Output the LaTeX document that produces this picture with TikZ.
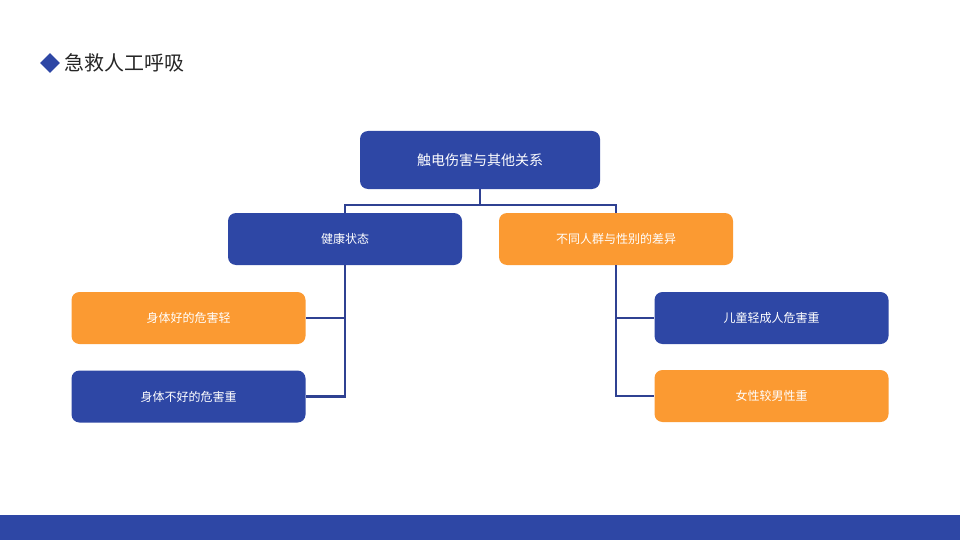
\documentclass[tikz,border=0pt]{standalone}
\usepackage{fontspec}
\setmainfont{Noto Sans CJK SC}
\usepackage{tikz}
\usetikzlibrary{positioning,shapes.geometric}
\definecolor{deepblue}{HTML}{2E47A5}
\definecolor{linkblue}{HTML}{2F4192}
\definecolor{amber}{HTML}{FB9A32}

\begin{document}
\begin{tikzpicture}[
  x=1pt, y=-1pt,
  font=\fontsize{12}{14}\selectfont,
  box/.style={rounded corners=8pt, text=white, minimum width=234pt, minimum height=52pt, inner sep=0pt},
  bluebox/.style={box, fill=deepblue},
  orangebox/.style={box, fill=amber},
  link/.style={draw=linkblue, line width=2.8pt}
]
\useasboundingbox (0,0) rectangle (960,540);
\fill[deepblue] (0,515) rectangle (960,540);
\node[diamond, fill=deepblue, minimum size=20pt, inner sep=0pt] (mark) at (50,63) {};
\node[anchor=west, font=\fontsize{20}{24}\selectfont, text=black!85, right=1pt of mark] (title) {急救人工呼吸};

\node[bluebox, minimum width=240pt, minimum height=58pt, font=\fontsize{14}{16}\selectfont] (top) at (480,160) {触电伤害与其他关系};
\node[bluebox] (health) at (345,239) {健康状态};
\node[orangebox] (diff) at (616,239) {不同人群与性别的差异};
\node[orangebox] (good) at (188.5,318) {身体好的危害轻};
\node[bluebox] (bad) at (188.5,396.5) {身体不好的危害重};
\node[bluebox] (child) at (771.5,318) {儿童轻成人危害重};
\node[orangebox] (female) at (771.5,396) {女性较男性重};

\coordinate (fork) at (480,205);
\draw[link] (top.south) -- (fork);
\draw[link] (fork) -| (health.north);
\draw[link] (fork) -| (diff.north);
\draw[link] (health.south) |- (good.east);
\draw[link] (health.south) |- (bad.east);
\draw[link] (diff.south) |- (child.west);
\draw[link] (diff.south) |- (female.west);
\end{tikzpicture}
\end{document}
